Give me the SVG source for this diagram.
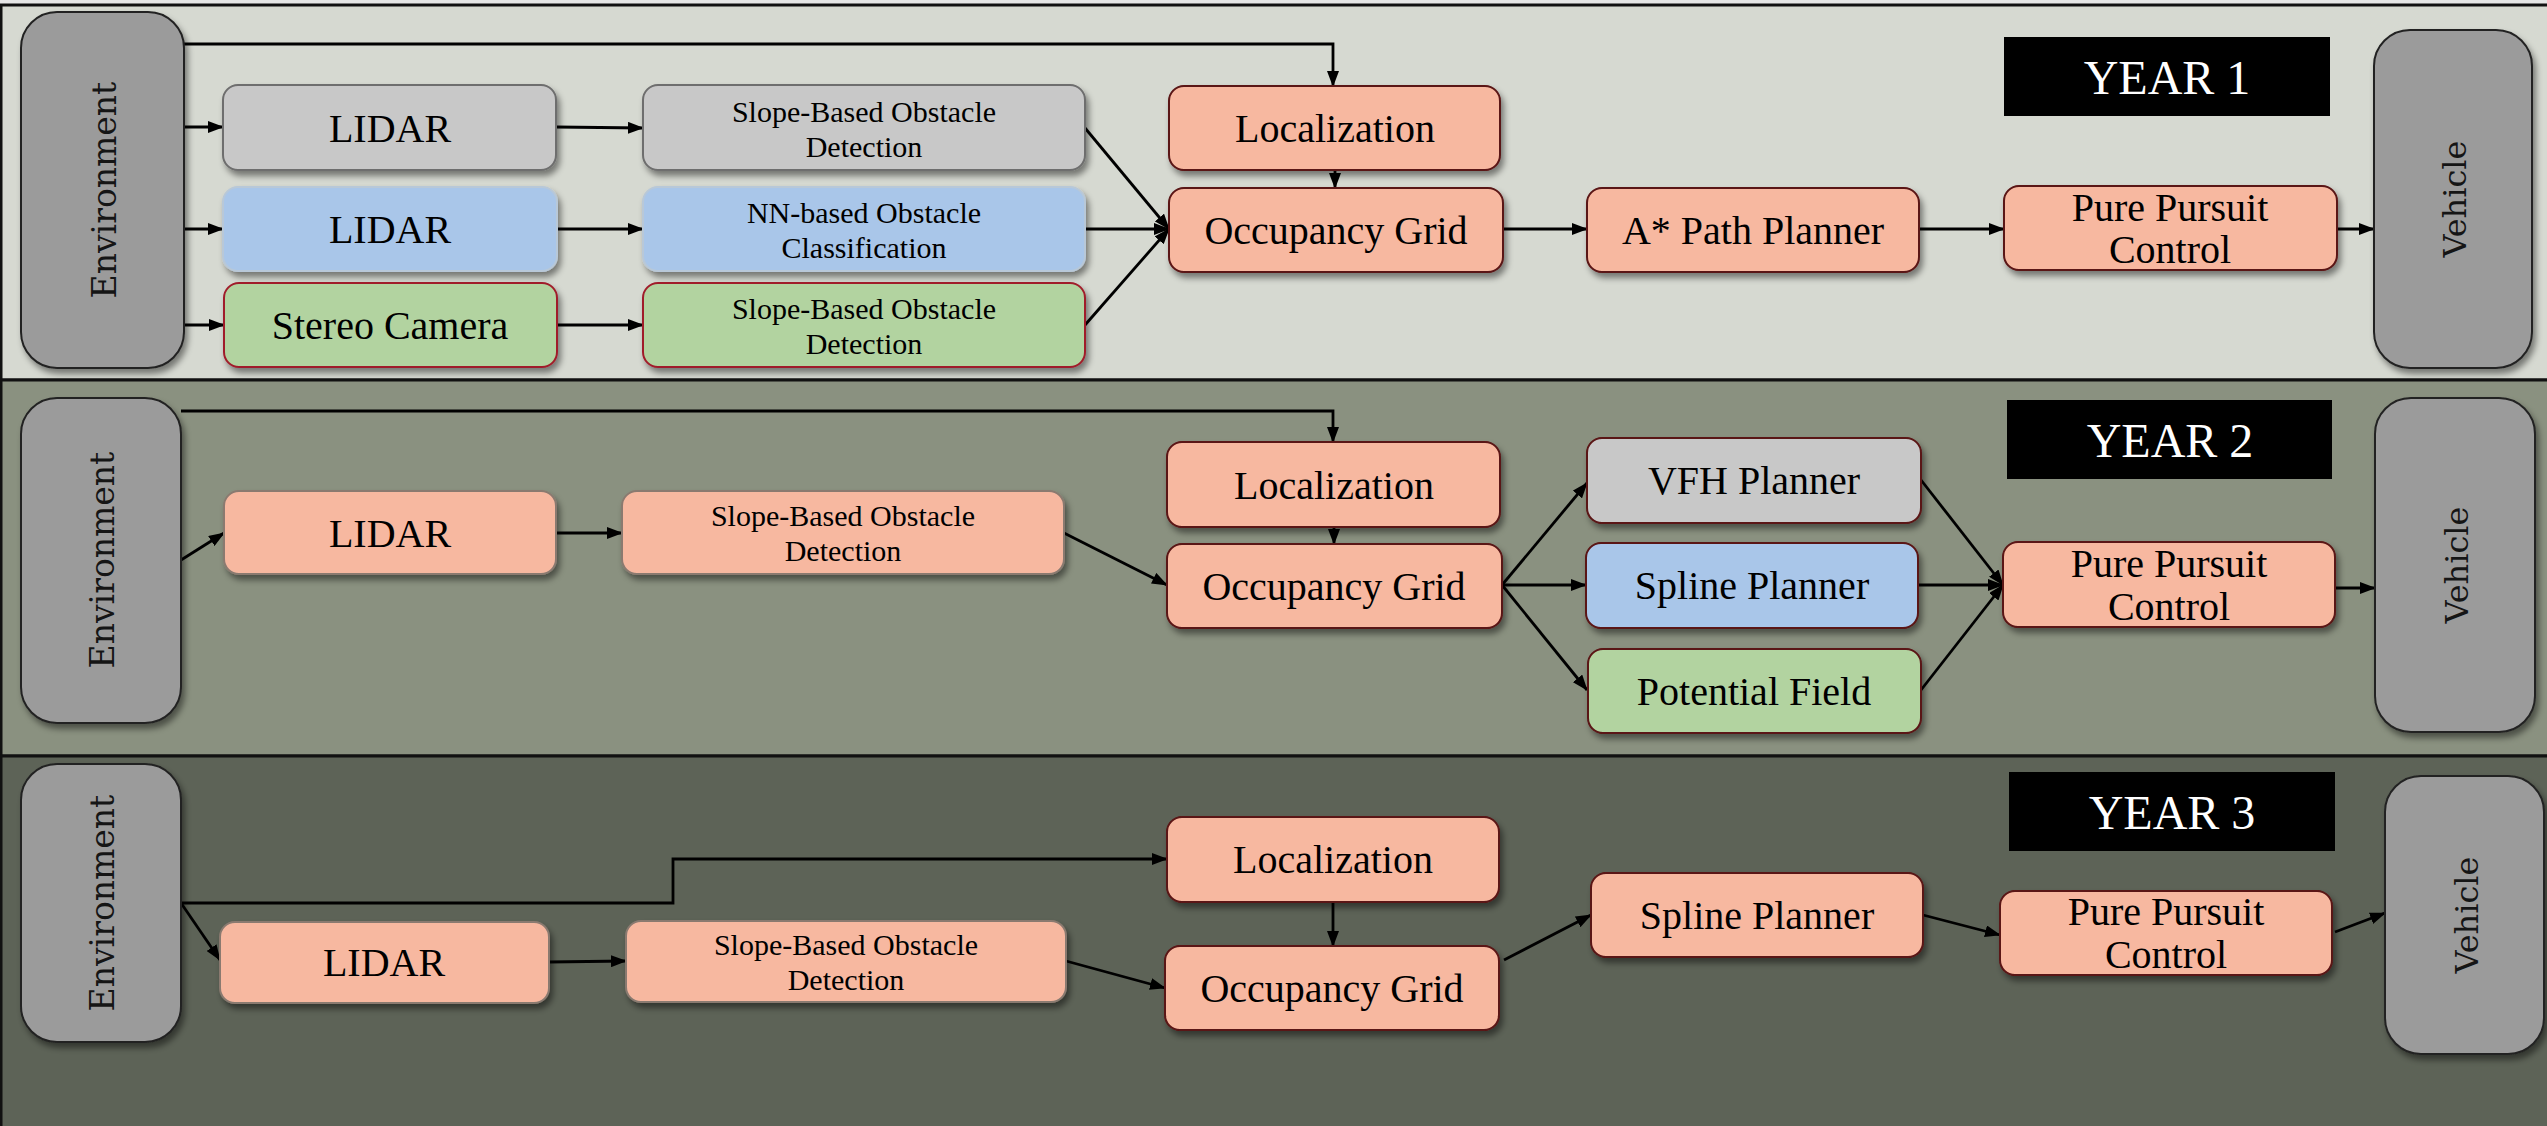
<svg xmlns="http://www.w3.org/2000/svg" width="2547" height="1126" viewBox="0 0 2547 1126">
<defs>
<filter id="sh" x="-10%" y="-10%" width="125%" height="135%"><feDropShadow dx="3" dy="5" stdDeviation="3" flood-color="#000" flood-opacity="0.45"/></filter>
<marker id="ah" markerUnits="userSpaceOnUse" markerWidth="16" markerHeight="12" refX="15" refY="6" orient="auto"><path d="M0,0 L16,6 L0,12 z" fill="#000"/></marker>
<style>
.band{stroke:#111;stroke-width:3}
.n rect{filter:url(#sh);stroke-width:2}
.sal{fill:#f7b8a0;stroke:#5a1414}
.sal2{fill:#f7b8a0;stroke:#8a7a70}
.gry{fill:#c8c8c8;stroke:#6e6e6e}
.blu{fill:#a9c6e9;stroke:#b8c8d8}
.grn{fill:#b2d3a0;stroke:#a01e2c}
.grnm{fill:#b2d3a0;stroke:#5a1414}
.ev{fill:#9b9b9b;stroke:#222;stroke-width:2.5}
text{font-family:"Liberation Serif","Times New Roman",serif;fill:#000;text-anchor:middle;dominant-baseline:central}
.t{font-size:40px}
.s{font-size:30px}
.side{font-family:"DejaVu Serif","Liberation Serif",serif;font-size:33px;fill:#151515}
.yr{font-size:48px;fill:#fff}
#edges path{fill:none;stroke:#000;stroke-width:2.8;marker-end:url(#ah)}
</style>
</defs>
<rect x="0" y="0" width="2547" height="1126" fill="#e6e6e6"/>
<rect class="band" x="1" y="5" width="2560" height="375" fill="#d6d9d1"/>
<rect class="band" x="1" y="380" width="2560" height="376" fill="#8a9180"/>
<rect class="band" x="1" y="756" width="2560" height="380" fill="#5d6357"/>

<g id="year-labels">
<g id="year1"><rect x="2004" y="37" width="326" height="79" fill="#000"/><text class="yr" x="2167" y="77">YEAR 1</text></g>
<g id="year2"><rect x="2007" y="400" width="325" height="79" fill="#000"/><text class="yr" x="2170" y="440">YEAR 2</text></g>
<g id="year3"><rect x="2009" y="772" width="326" height="79" fill="#000"/><text class="yr" x="2172" y="812">YEAR 3</text></g>
</g>

<g id="edges">
<path d="M184,44 H1333 V86"/>
<path d="M184,127 H223"/>
<path d="M184,229 H223"/>
<path d="M184,325 H224"/>
<path d="M556,127 L643,128"/>
<path d="M557,229 H643"/>
<path d="M557,325 H643"/>
<path d="M1085,128 L1169,229"/>
<path d="M1085,229 H1169"/>
<path d="M1085,325 L1169,229"/>
<path d="M1335,170 V188"/>
<path d="M1503,229 H1587"/>
<path d="M1919,229 H2004"/>
<path d="M2337,229 H2374"/>

<path d="M181,411 H1333 V442"/>
<path d="M181,560 L224,533"/>
<path d="M556,533 H622"/>
<path d="M1064,533 L1167,585"/>
<path d="M1334,527 V544"/>
<path d="M1502,585 L1587,483"/>
<path d="M1502,585 H1586"/>
<path d="M1502,585 L1587,690"/>
<path d="M1921,480 L2003,585"/>
<path d="M1918,585 H2003"/>
<path d="M1921,690 L2003,585"/>
<path d="M2335,588 H2375"/>

<path d="M181,903 H673 V859 H1167"/>
<path d="M181,903 L220,960"/>
<path d="M549,962 L626,961"/>
<path d="M1066,961 L1165,988"/>
<path d="M1333,902 V946"/>
<path d="M1504,960 L1591,915"/>
<path d="M1923,915 L2000,935"/>
<path d="M2335,932 L2385,913"/>
</g>

<!-- Year 1 -->
<g id="y1-env" class="n"><rect class="ev" x="21" y="12" width="163" height="356" rx="36"/><text class="side" transform="translate(104,190) rotate(-90)">Environment</text></g>
<g id="y1-lidar-a" class="n"><rect class="gry" x="223" y="85" width="333" height="85" rx="15"/><text class="t" x="390" y="128">LIDAR</text></g>
<g id="y1-lidar-b" class="n"><rect class="blu" x="223" y="187" width="334" height="84" rx="15"/><text class="t" x="390" y="229">LIDAR</text></g>
<g id="y1-stereo" class="n"><rect class="grn" x="224" y="283" width="333" height="84" rx="15"/><text class="t" x="390" y="325">Stereo Camera</text></g>
<g id="y1-slope-a" class="n"><rect class="gry" x="643" y="85" width="442" height="85" rx="15"/><text class="s" x="864" y="111">Slope-Based Obstacle</text><text class="s" x="864" y="146">Detection</text></g>
<g id="y1-nn" class="n"><rect class="blu" x="643" y="187" width="442" height="84" rx="15"/><text class="s" x="864" y="212">NN-based Obstacle</text><text class="s" x="864" y="247">Classification</text></g>
<g id="y1-slope-b" class="n"><rect class="grn" x="643" y="283" width="442" height="84" rx="15"/><text class="s" x="864" y="308">Slope-Based Obstacle</text><text class="s" x="864" y="343">Detection</text></g>
<g id="y1-loc" class="n"><rect class="sal" x="1169" y="86" width="331" height="84" rx="15"/><text class="t" x="1335" y="128">Localization</text></g>
<g id="y1-og" class="n"><rect class="sal" x="1169" y="188" width="334" height="84" rx="15"/><text class="t" x="1336" y="230">Occupancy Grid</text></g>
<g id="y1-astar" class="n"><rect class="sal" x="1587" y="188" width="332" height="84" rx="15"/><text class="t" x="1753" y="230">A* Path Planner</text></g>
<g id="y1-pp" class="n"><rect class="sal" x="2004" y="186" width="333" height="84" rx="15"/><text class="t" x="2170" y="207">Pure Pursuit</text><text class="t" x="2170" y="249">Control</text></g>
<g id="y1-vehicle" class="n"><rect class="ev" x="2374" y="30" width="158" height="338" rx="36"/><text class="side" style="font-size:32px" transform="translate(2455,199) rotate(-90)">Vehicle</text></g>

<!-- Year 2 -->
<g id="y2-env" class="n"><rect class="ev" x="21" y="398" width="160" height="325" rx="36"/><text class="side" transform="translate(102,560) rotate(-90)">Environment</text></g>
<g id="y2-lidar" class="n"><rect class="sal2" x="224" y="491" width="332" height="83" rx="15"/><text class="t" x="390" y="533">LIDAR</text></g>
<g id="y2-slope" class="n"><rect class="sal2" x="622" y="491" width="442" height="83" rx="15"/><text class="s" x="843" y="515">Slope-Based Obstacle</text><text class="s" x="843" y="550">Detection</text></g>
<g id="y2-loc" class="n"><rect class="sal" x="1167" y="442" width="333" height="85" rx="15"/><text class="t" x="1334" y="485">Localization</text></g>
<g id="y2-og" class="n"><rect class="sal" x="1167" y="544" width="335" height="84" rx="15"/><text class="t" x="1334" y="586">Occupancy Grid</text></g>
<g id="y2-vfh" class="n"><rect class="gry" style="stroke:#5a1414" x="1587" y="438" width="334" height="85" rx="15"/><text class="t" x="1754" y="480">VFH Planner</text></g>
<g id="y2-spline" class="n"><rect class="blu" style="stroke:#5a1414" x="1586" y="543" width="332" height="85" rx="15"/><text class="t" x="1752" y="585">Spline Planner</text></g>
<g id="y2-pf" class="n"><rect class="grnm" x="1588" y="649" width="333" height="84" rx="15"/><text class="t" x="1754" y="691">Potential Field</text></g>
<g id="y2-pp" class="n"><rect class="sal" x="2003" y="542" width="332" height="85" rx="15"/><text class="t" x="2169" y="563">Pure Pursuit</text><text class="t" x="2169" y="606">Control</text></g>
<g id="y2-vehicle" class="n"><rect class="ev" x="2375" y="398" width="160" height="334" rx="36"/><text class="side" style="font-size:32px" transform="translate(2457,565) rotate(-90)">Vehicle</text></g>

<!-- Year 3 -->
<g id="y3-env" class="n"><rect class="ev" x="21" y="764" width="160" height="278" rx="36"/><text class="side" transform="translate(102,903) rotate(-90)">Environment</text></g>
<g id="y3-lidar" class="n"><rect class="sal2" x="220" y="922" width="329" height="81" rx="15"/><text class="t" x="384" y="962">LIDAR</text></g>
<g id="y3-slope" class="n"><rect class="sal2" x="626" y="921" width="440" height="81" rx="15"/><text class="s" x="846" y="944">Slope-Based Obstacle</text><text class="s" x="846" y="979">Detection</text></g>
<g id="y3-loc" class="n"><rect class="sal" x="1167" y="817" width="332" height="85" rx="15"/><text class="t" x="1333" y="859">Localization</text></g>
<g id="y3-og" class="n"><rect class="sal" x="1165" y="946" width="334" height="84" rx="15"/><text class="t" x="1332" y="988">Occupancy Grid</text></g>
<g id="y3-spline" class="n"><rect class="sal" x="1591" y="873" width="332" height="84" rx="15"/><text class="t" x="1757" y="915">Spline Planner</text></g>
<g id="y3-pp" class="n"><rect class="sal" x="2000" y="891" width="332" height="84" rx="15"/><text class="t" x="2166" y="911">Pure Pursuit</text><text class="t" x="2166" y="954">Control</text></g>
<g id="y3-vehicle" class="n"><rect class="ev" x="2385" y="776" width="159" height="278" rx="36"/><text class="side" style="font-size:32px" transform="translate(2467,915) rotate(-90)">Vehicle</text></g>
</svg>
